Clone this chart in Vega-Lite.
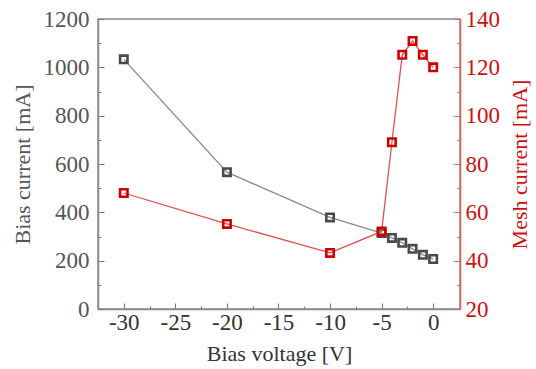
{
  "$schema": "https://vega.github.io/schema/vega-lite/v6.json",
  "width": 362,
  "height": 290,
  "autosize": "none",
  "padding": {"left": 98, "top": 19, "right": 76, "bottom": 60},
  "background": "white",
  "config": {
    "view": {"stroke": "#8a8a8a", "strokeWidth": 1.5},
    "axis": {"grid": false, "domainWidth": 1.5, "labelFont": "Liberation Serif", "titleFont": "Liberation Serif", "labelFontSize": 23, "titleFontSize": 22, "titleFontWeight": "normal"}
  },
  "data": {"values": [
    {"V": -30, "bias": 1033, "mesh": 68},
    {"V": -20, "bias": 566, "mesh": 55.2},
    {"V": -10, "bias": 379, "mesh": 43.2},
    {"V": -5, "bias": 314, "mesh": 52.1},
    {"V": -4, "bias": 294, "mesh": 89},
    {"V": -3, "bias": 274, "mesh": 125.2},
    {"V": -2, "bias": 249, "mesh": 130.9},
    {"V": -1, "bias": 224, "mesh": 125.2},
    {"V": 0, "bias": 207, "mesh": 120}
  ]},
  "encoding": {
    "x": {"field": "V", "type": "quantitative",
      "scale": {"domain": [-32.5, 2.6], "nice": false, "zero": false},
      "axis": {"title": "Bias voltage [V]", "values": [-30, -27.5, -25, -22.5, -20, -17.5, -15, -12.5, -10, -7.5, -5, -2.5, 0],
        "labelExpr": "datum.value % 5 === 0 ? ('' + datum.value) : ''",
        "tickSize": {"condition": {"test": "datum.value % 5 === 0", "value": -6}, "value": -3},
        "tickColor": "#777", "domainColor": "#8a8a8a", "labelColor": "#333", "titleColor": "#333",
        "labelPadding": 8, "titlePadding": 9}}
  },
  "layer": [
    {
      "encoding": {"y": {"field": "bias", "type": "quantitative",
        "scale": {"domain": [0, 1200], "nice": false},
        "axis": {"orient": "left", "title": "Bias current [mA]",
          "values": [0, 100, 200, 300, 400, 500, 600, 700, 800, 900, 1000, 1100, 1200],
          "labelExpr": "datum.value % 200 === 0 ? ('' + datum.value) : ''",
          "tickSize": {"condition": {"test": "datum.value % 200 === 0", "value": -6}, "value": -3},
          "tickColor": "#777", "domainColor": "#8a8a8a", "labelColor": "#555", "titleColor": "#555",
          "labelPadding": 15, "titlePadding": 9}}},
      "layer": [
        {"mark": {"type": "line", "color": "#8a8a8a", "strokeWidth": 1.3}},
        {"mark": {"type": "point", "shape": "square", "filled": false, "size": 55, "strokeWidth": 2.6, "color": "#4a4a4a", "opacity": 1}}
      ]
    },
    {
      "encoding": {"y": {"field": "mesh", "type": "quantitative",
        "scale": {"domain": [20, 140], "nice": false, "zero": false},
        "axis": {"orient": "right", "title": "Mesh current [mA]",
          "values": [20, 30, 40, 50, 60, 70, 80, 90, 100, 110, 120, 130, 140],
          "labelExpr": "datum.value % 20 === 0 ? ('' + datum.value) : ''",
          "tickSize": {"condition": {"test": "datum.value % 20 === 0", "value": -6}, "value": -3},
          "tickColor": "#e06060", "domainColor": "#e06060", "labelColor": "#cc1010", "titleColor": "#cc1010",
          "labelPadding": 11, "titleAngle": 270, "titlePadding": 32}}},
      "layer": [
        {"mark": {"type": "line", "color": "#e05050", "strokeWidth": 1.3}},
        {"mark": {"type": "point", "shape": "square", "filled": false, "size": 55, "strokeWidth": 2.6, "color": "#d00000", "opacity": 1}}
      ]
    }
  ],
  "resolve": {"scale": {"y": "independent"}}
}
